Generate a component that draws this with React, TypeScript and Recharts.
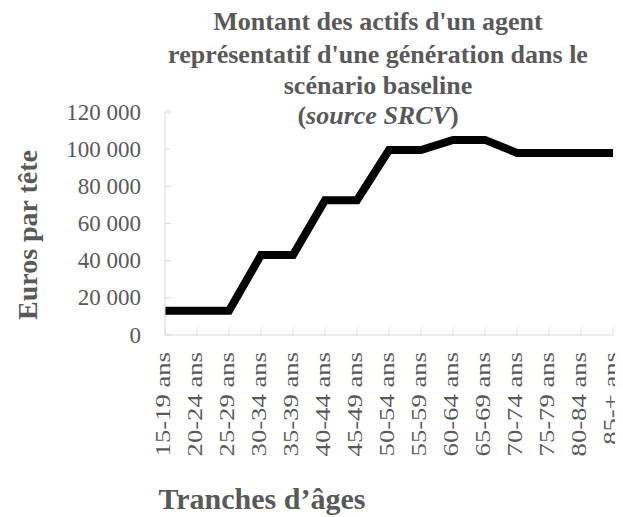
import { LineChart, Line, XAxis, YAxis } from 'recharts';

const ageGroups = [
  '15-19 ans', '20-24 ans', '25-29 ans', '30-34 ans', '35-39 ans',
  '40-44 ans', '45-49 ans', '50-54 ans', '55-59 ans', '60-64 ans',
  '65-69 ans', '70-74 ans', '75-79 ans', '80-84 ans', '85-+ ans',
];
const assets = [
  13000, 13000, 13000, 43000, 43000,
  72500, 72500, 99500, 99500, 105000,
  105000, 98000, 98000, 98000, 98000,
];
const yTicks = [0, 20000, 40000, 60000, 80000, 100000, 120000];

const data = ageGroups.map((age, i) => ({ age, value: assets[i] }));

const GREY = '#595959';
const AXIS = '#d9d9d9';
const FONT = '"Liberation Serif", "Times New Roman", serif';

const fmt = (v: number) => (v === 0 ? '0' : `${Math.round(v / 1000)} 000`);

function XTick(props: any) {
  const { x, y, payload } = props;
  return (
    <g>
      <line x1={x} y1={y - 8} x2={x} y2={y} stroke={AXIS} />
      <text
        transform={`translate(${x - 2},${y + 17}) rotate(-90) scale(1.27,1)`}
        textAnchor="end"
        dominantBaseline="central"
        fill={GREY}
        fontSize={21}
        fontFamily={FONT}
      >
        {payload.value}
      </text>
    </g>
  );
}

function YTick(props: any) {
  const { x, y, payload } = props;
  return (
    <g>
      <line x1={x} y1={y} x2={x + 6} y2={y} stroke={AXIS} />
      <text
        x={x - 24}
        y={y}
        textAnchor="end"
        dominantBaseline="central"
        fill={GREY}
        fontSize={23}
        fontFamily={FONT}
      >
        {fmt(payload.value)}
      </text>
    </g>
  );
}

const titleLines = [
  "Montant des actifs d'un agent",
  "représentatif d'une génération dans le",
  'scénario baseline',
];
const titleBase = [30, 63, 94];

export default function App() {
  return (
    <div style={{ position: 'relative', width: 615, height: 509 }}>
      <LineChart
        width={615}
        height={509}
        data={data}
        margin={{ top: 104, right: 10, left: 0, bottom: 0 }}
      >
        <XAxis
          dataKey="age"
          height={182}
          stroke={AXIS}
          tickLine={false}
          tickSize={0}
          tickMargin={0}
          interval={0}
          tick={<XTick />}
        />
        <YAxis
          width={157}
          domain={[0, 120000]}
          ticks={yTicks}
          stroke={AXIS}
          tickLine={false}
          tickSize={0}
          tickMargin={0}
          interval={0}
          tick={<YTick />}
        />
        <Line
          dataKey="value"
          stroke="#000000"
          strokeWidth={8}
          dot={false}
          activeDot={false}
          isAnimationActive={false}
        />
      </LineChart>
      <svg
        width={615}
        height={509}
        style={{ position: 'absolute', left: 0, top: 0, pointerEvents: 'none' }}
        fontFamily={FONT}
        fill={GREY}
        fontWeight="bold"
      >
        {titleLines.map((t, i) => (
          <text key={t} x={378 - 8} y={titleBase[i] - 8} textAnchor="middle" fontSize={26}>
            {t}
          </text>
        ))}
        <text x={378 - 8} y={124 - 8} textAnchor="middle" fontSize={26}>
          (<tspan fontStyle="italic">source SRCV</tspan>)
        </text>
        <text
          transform={`translate(${37 - 8},${235 - 8}) rotate(-90)`}
          textAnchor="middle"
          fontSize={28}
        >
          Euros par tête
        </text>
        <text x={262 - 8} y={509 - 8} textAnchor="middle" fontSize={30}>
          Tranches d’âges
        </text>
      </svg>
    </div>
  );
}
